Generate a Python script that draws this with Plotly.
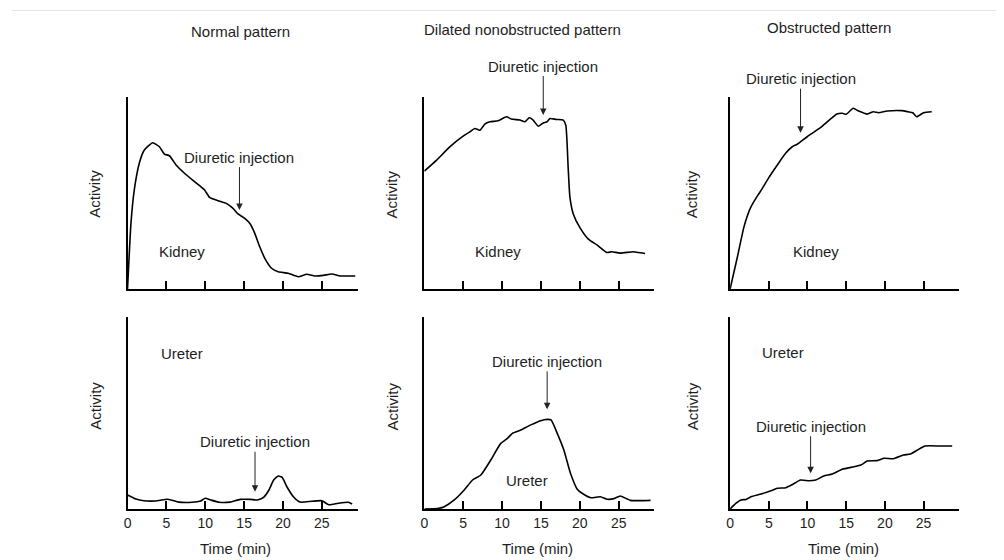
import plotly.graph_objects as go

# page body has an 8px margin; the figure is sized so that it fills the window exactly
PAGE_MARGIN = 8
W, H = 1004 - PAGE_MARGIN, 560 - PAGE_MARGIN

# ---------------- data ----------------
time_ticks = [0, 5, 10, 15, 20, 25]
tick_labels = ["0", "5", "10", "15", "20", "25"]

column_titles = ["Normal pattern", "Dilated nonobstructed pattern", "Obstructed pattern"]
row_labels = ["Kidney", "Ureter"]

normal_kidney_t = [0, 0.44, 0.87, 1.51, 2.16, 3.23, 4.1, 4.74, 5.39, 6.25, 7.33, 8.62, 9.91, 10.56,
                   11.63, 12.71, 13.57, 14.21, 15.08, 15.72, 16.37, 17.01, 17.66, 18.53, 19.38,
                   20.67, 21.96, 23.05, 24.12, 25.2, 26.28, 27.35, 29.3]
normal_kidney_v = [0, 34.2, 51.6, 65.5, 72.4, 76.2, 74.1, 70.3, 69.4, 64.6, 60.3, 55.9, 51.6, 47.7,
                   46.0, 44.6, 42.0, 39.1, 36.8, 34.2, 29.0, 22.0, 16.0, 10.8, 9.0,
                   8.2, 6.4, 7.7, 6.8, 7.1, 7.8, 6.8, 6.8]

normal_ureter_t = [0, 1.07, 2.1, 3.6, 5.2, 6.6, 8.3, 9.4, 10.0, 10.7, 11.8, 13.2, 14.5, 15.8, 16.7,
                   17.5, 18.2, 18.8, 19.4, 19.9, 20.5, 21.4, 22.2, 23.7, 25.0, 25.9, 27.1, 28.4, 28.9]
normal_ureter_v = [7.3, 5.2, 4.3, 4.2, 5.1, 3.6, 3.5, 4.2, 5.6, 4.7, 3.5, 3.6, 5.0, 5.0, 4.7,
                   6.1, 9.9, 15.1, 17.2, 16.5, 11.6, 6.1, 3.6, 4.0, 4.3, 2.2, 3.0, 3.5, 2.6]

dilated_kidney_t = [0, 1.55, 3.27, 4.99, 5.85, 6.49, 7.14, 7.78, 8.43, 9.5, 10.57, 11.2, 12.3, 12.94,
                    13.5, 14.0, 14.65, 15.3, 15.8, 16.16, 17.0, 17.87, 18.2, 18.5, 18.73, 19.16,
                    20.0, 21.1, 22.2, 23.5, 24.1, 25.2, 26.9, 27.5, 28.4]
dilated_kidney_v = [61.4, 67.0, 74.0, 79.6, 81.8, 83.6, 82.7, 85.9, 87.1, 87.6, 89.7, 88.5, 88.0, 87.1,
                    89.2, 88.0, 84.8, 86.5, 87.1, 88.8, 88.3, 88.0, 85.3, 63.5, 47.8, 39.1,
                    32.1, 26.0, 23.0, 19.0, 19.4, 18.7, 19.4, 19.0, 18.5]

dilated_ureter_t = [0, 1.7, 2.56, 3.85, 5.13, 6.2, 7.27, 8.55, 9.83, 10.7, 11.33, 12.4, 13.7, 14.96,
                    15.8, 16.3, 17.1, 17.95, 18.8, 19.67, 20.3, 21.4, 22.65, 23.5, 24.4, 25.2, 26.5, 29.1]
dilated_ureter_v = [0, 0.2, 1.2, 4.7, 9.9, 15.1, 17.7, 25.5, 34.2, 36.8, 39.4, 41.1, 43.8, 46.0,
                    46.7, 46.4, 39.4, 30.7, 18.6, 10.3, 8.2, 5.9, 6.4, 5.1, 5.4, 6.8, 4.5, 4.5]

obstructed_kidney_t = [0, 0.95, 1.8, 2.66, 3.53, 4.17, 5.0, 6.1, 7.17, 8.03, 8.67, 9.96, 11.67, 13.8,
                       14.5, 15.0, 15.9, 16.6, 17.7, 18.5, 19.2, 20.3, 22.2, 23.0, 23.6, 24.1, 25.0, 26.05]
obstructed_kidney_v = [0, 16.8, 32.5, 42.5, 48.5, 52.4, 58.0, 64.6, 70.7, 74.1, 75.4, 79.3, 84.0, 91.1,
                       91.5, 91.0, 94.1, 92.7, 91.1, 92.3, 91.8, 92.7, 92.9, 92.3, 91.8, 89.7, 91.8, 92.3]

obstructed_ureter_t = [0, 0.77, 1.4, 2.06, 2.7, 4.0, 5.28, 6.1, 7.2, 8.07, 9.1, 10.2, 11.07, 12.1,
                       13.2, 14.5, 16.0, 16.9, 17.7, 19.0, 19.9, 21.1, 22.4, 23.3, 24.2, 25.2, 27.2, 28.7]
obstructed_ureter_v = [0, 3.0, 4.7, 5.0, 6.4, 7.8, 9.5, 10.8, 11.1, 12.8, 15.1, 14.7, 15.1, 17.2,
                       18.2, 20.7, 22.0, 22.9, 25.0, 25.2, 26.4, 26.2, 28.1, 28.6, 30.7, 32.8, 32.8, 32.8]

# diuretic injection markers (time, activity at arrow tip), panel order: top L/M/R, bottom L/M/R
injection_t = [14.4, 15.3, 9.1, 16.4, 15.8, 10.4]
injection_v = [41.1, 90.6, 81.4, 9.0, 51.9, 18.6]

# ---------------- layout geometry (window pixels) ----------------
FONT = "Liberation Sans, Arial, Helvetica, sans-serif"
TXT = "#1e1e1e"
col_px = [(124, 355), (422, 653), (729, 959)]
row_px = [(97, 289), (317, 509)]   # (top, bottom)
X_MAX = 29.6


def fx(px):
    return (px - PAGE_MARGIN) / W


def fy(py):
    return 1 - (py - PAGE_MARGIN) / H


series = [
    (normal_kidney_t, normal_kidney_v), (dilated_kidney_t, dilated_kidney_v),
    (obstructed_kidney_t, obstructed_kidney_v),
    (normal_ureter_t, normal_ureter_v), (dilated_ureter_t, dilated_ureter_v),
    (obstructed_ureter_t, obstructed_ureter_v),
]

fig = go.Figure()
layout = dict(
    width=W, height=H, autosize=False,
    margin=dict(l=0, r=0, t=0, b=0),
    paper_bgcolor="white", plot_bgcolor="white",
    showlegend=False,
    font=dict(family=FONT, color=TXT, size=14),
)

annotations = []
ay_offsets = [-53, -49, -54, -50, -48, -47]
activity_x = [91, 390, 691]
time_x = [232, 536, 843]

for i, (t, v) in enumerate(series):
    r, c = divmod(i, 3)
    n = i + 1
    xa = "x" if n == 1 else f"x{n}"
    ya = "y" if n == 1 else f"y{n}"
    fig.add_trace(go.Scatter(x=t, y=v, mode="lines", xaxis=xa, yaxis=ya,
                             line=dict(color="black", width=1.6, shape="spline", smoothing=0.5),
                             hoverinfo="skip"))
    x0, x1 = col_px[c]
    top, bot = row_px[r]
    layout["xaxis" if n == 1 else f"xaxis{n}"] = dict(
        domain=[fx(x0), fx(x1)], anchor=ya,
        range=[0, X_MAX], showgrid=False, zeroline=False,
        showline=True, linecolor="black", linewidth=2,
        ticks="inside", ticklen=8, tickwidth=2, tickcolor="black",
        tickvals=time_ticks, ticktext=tick_labels,
        showticklabels=(r == 1), tickfont=dict(size=14, family=FONT, color=TXT),
        fixedrange=True,
    )
    layout["yaxis" if n == 1 else f"yaxis{n}"] = dict(
        domain=[fy(bot), fy(top)], anchor=xa,
        range=[0, 100], showgrid=False, zeroline=False,
        showline=True, linecolor="black", linewidth=2,
        ticks="", showticklabels=False, fixedrange=True,
    )
    # diuretic injection arrow + text
    annotations.append(dict(
        x=injection_t[i], y=injection_v[i], xref=xa, yref=ya,
        text="Diuretic injection", showarrow=True, ax=0, ay=ay_offsets[i],
        arrowhead=2, arrowsize=1.3, arrowwidth=1, arrowcolor="#222",
        font=dict(size=15, family=FONT, color=TXT),
    ))
    # Activity label
    annotations.append(dict(
        x=fx(activity_x[c]), y=fy(194 if r == 0 else 406),
        xref="paper", yref="paper", text="Activity", textangle=-90, showarrow=False,
        font=dict(size=15, family=FONT, color=TXT), xanchor="center", yanchor="middle",
    ))
    if r == 1:
        annotations.append(dict(
            x=fx(time_x[c]), y=fy(548), xref="paper", yref="paper",
            text="Time (min)", showarrow=False,
            font=dict(size=15, family=FONT, color=TXT), xanchor="center", yanchor="middle",
        ))

# organ labels
organ_pos = [(179, 252), (496, 251), (815, 252), (179, 353), (525, 480), (782, 352)]
for i, (px, py) in enumerate(organ_pos):
    annotations.append(dict(
        x=fx(px), y=fy(py), xref="paper", yref="paper", text=row_labels[i // 3],
        showarrow=False, font=dict(size=15, family=FONT, color=TXT),
        xanchor="center", yanchor="middle",
    ))

# column titles
title_pos = [(237, 32), (521, 29), (828, 27)]
for title, (px, py) in zip(column_titles, title_pos):
    annotations.append(dict(
        x=fx(px), y=fy(py), xref="paper", yref="paper", text=title,
        showarrow=False, font=dict(size=15, family=FONT, color=TXT),
        xanchor="center", yanchor="middle",
    ))

layout["annotations"] = annotations
layout["shapes"] = [dict(type="line", xref="paper", yref="paper", x0=0, x1=1,
                         y0=fy(10.5), y1=fy(10.5), line=dict(color="#e4e4e4", width=1))]
fig.update_layout(**layout)
fig.write_html("out.html")
